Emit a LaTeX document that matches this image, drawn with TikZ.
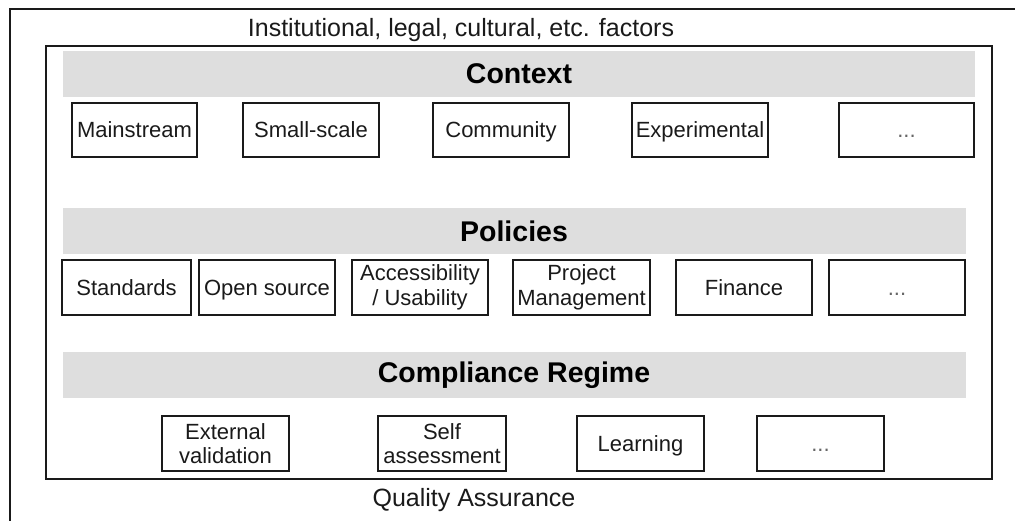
\documentclass[tikz,border=0pt]{standalone}
\usepackage{fontspec}
\setmainfont{Liberation Sans}
\definecolor{bargray}{HTML}{DEDEDE}
\definecolor{ink}{HTML}{1A1A1A}
\begin{document}
\begin{tikzpicture}[x=1pt,y=-1pt,
  frame/.style={draw=ink, line width=1.6pt, inner sep=0pt, anchor=north west},
  bar/.style={fill=bargray, draw=none, inner sep=0pt, anchor=north west},
  boxbase/.style={draw=ink, line width=1.3pt, minimum width=#1, minimum height=55pt,
    inner sep=0pt, align=center, text=ink, font=\fontsize{22}{24.5}\selectfont},
  box/.style={boxbase=#1, text height=17pt, text depth=1.5pt},
  twobox/.style={boxbase=#1},
  head/.style={text=black, font=\fontsize{28.5}{30}\selectfont\bfseries},
  note/.style={text=ink, font=\fontsize{25}{27}\selectfont}]
\useasboundingbox (0,0) rectangle (1015,521);
% frames
\node[frame, minimum width=1040pt, minimum height=540pt] (outer) at (9,8) {};
\node[frame, minimum width=946pt, minimum height=433pt] (inner) at (45,45) {};
\node[note] (factors) at (461,30) {Institutional, legal, cultural, etc. factors};
\node[note] (qa) at (474,500) {Quality Assurance};
% bars
\node[bar, minimum width=912pt, minimum height=46pt] (ctxbar) at (63,51) {};
\node[bar, minimum width=903pt, minimum height=46pt] (polbar) at (63,208) {};
\node[bar, minimum width=903pt, minimum height=46pt] (crbar) at (63,352) {};
\node[head] (ctx) at (519,74) {Context};
\node[head] (pol) at (514,231) {Policies};
\node[head] (cr) at (514,375) {Compliance Regime};
% context boxes
\node[box=125pt, minimum height=54pt] (c1) at (134.5,130) {Mainstream};
\node[box=136pt, minimum height=54pt] (c2) at (311,130) {Small-scale};
\node[box=136pt, minimum height=54pt] (c3) at (501,130) {Community};
\node[box=136pt, minimum height=54pt] (c4) at (700,130) {Experimental};
\node[box=135pt, minimum height=54pt] (c5) at (906.5,130) {\textcolor{black!60}{...}};
% policy boxes
\node[box=129pt] (p1) at (126.5,287.5) {Standards};
\node[box=136pt] (p2) at (267,287.5) {Open source};
\node[twobox=136pt] (p3) at (420,287.5) {Accessibility\\/ Usability};
\node[twobox=137pt] (p4) at (581.5,287.5) {Project\\Management};
\node[box=136pt] (p5) at (744,287.5) {Finance};
\node[box=136pt] (p6) at (897,287.5) {\textcolor{black!60}{...}};
% compliance boxes
\node[twobox=127pt] (r1) at (225.5,443.5) {External\\validation};
\node[twobox=128pt] (r2) at (442,443.5) {Self\\assessment};
\node[box=127pt] (r3) at (640.5,443.5) {Learning};
\node[box=127pt] (r4) at (820.5,443.5) {\textcolor{black!60}{...}};
\end{tikzpicture}
\end{document}
